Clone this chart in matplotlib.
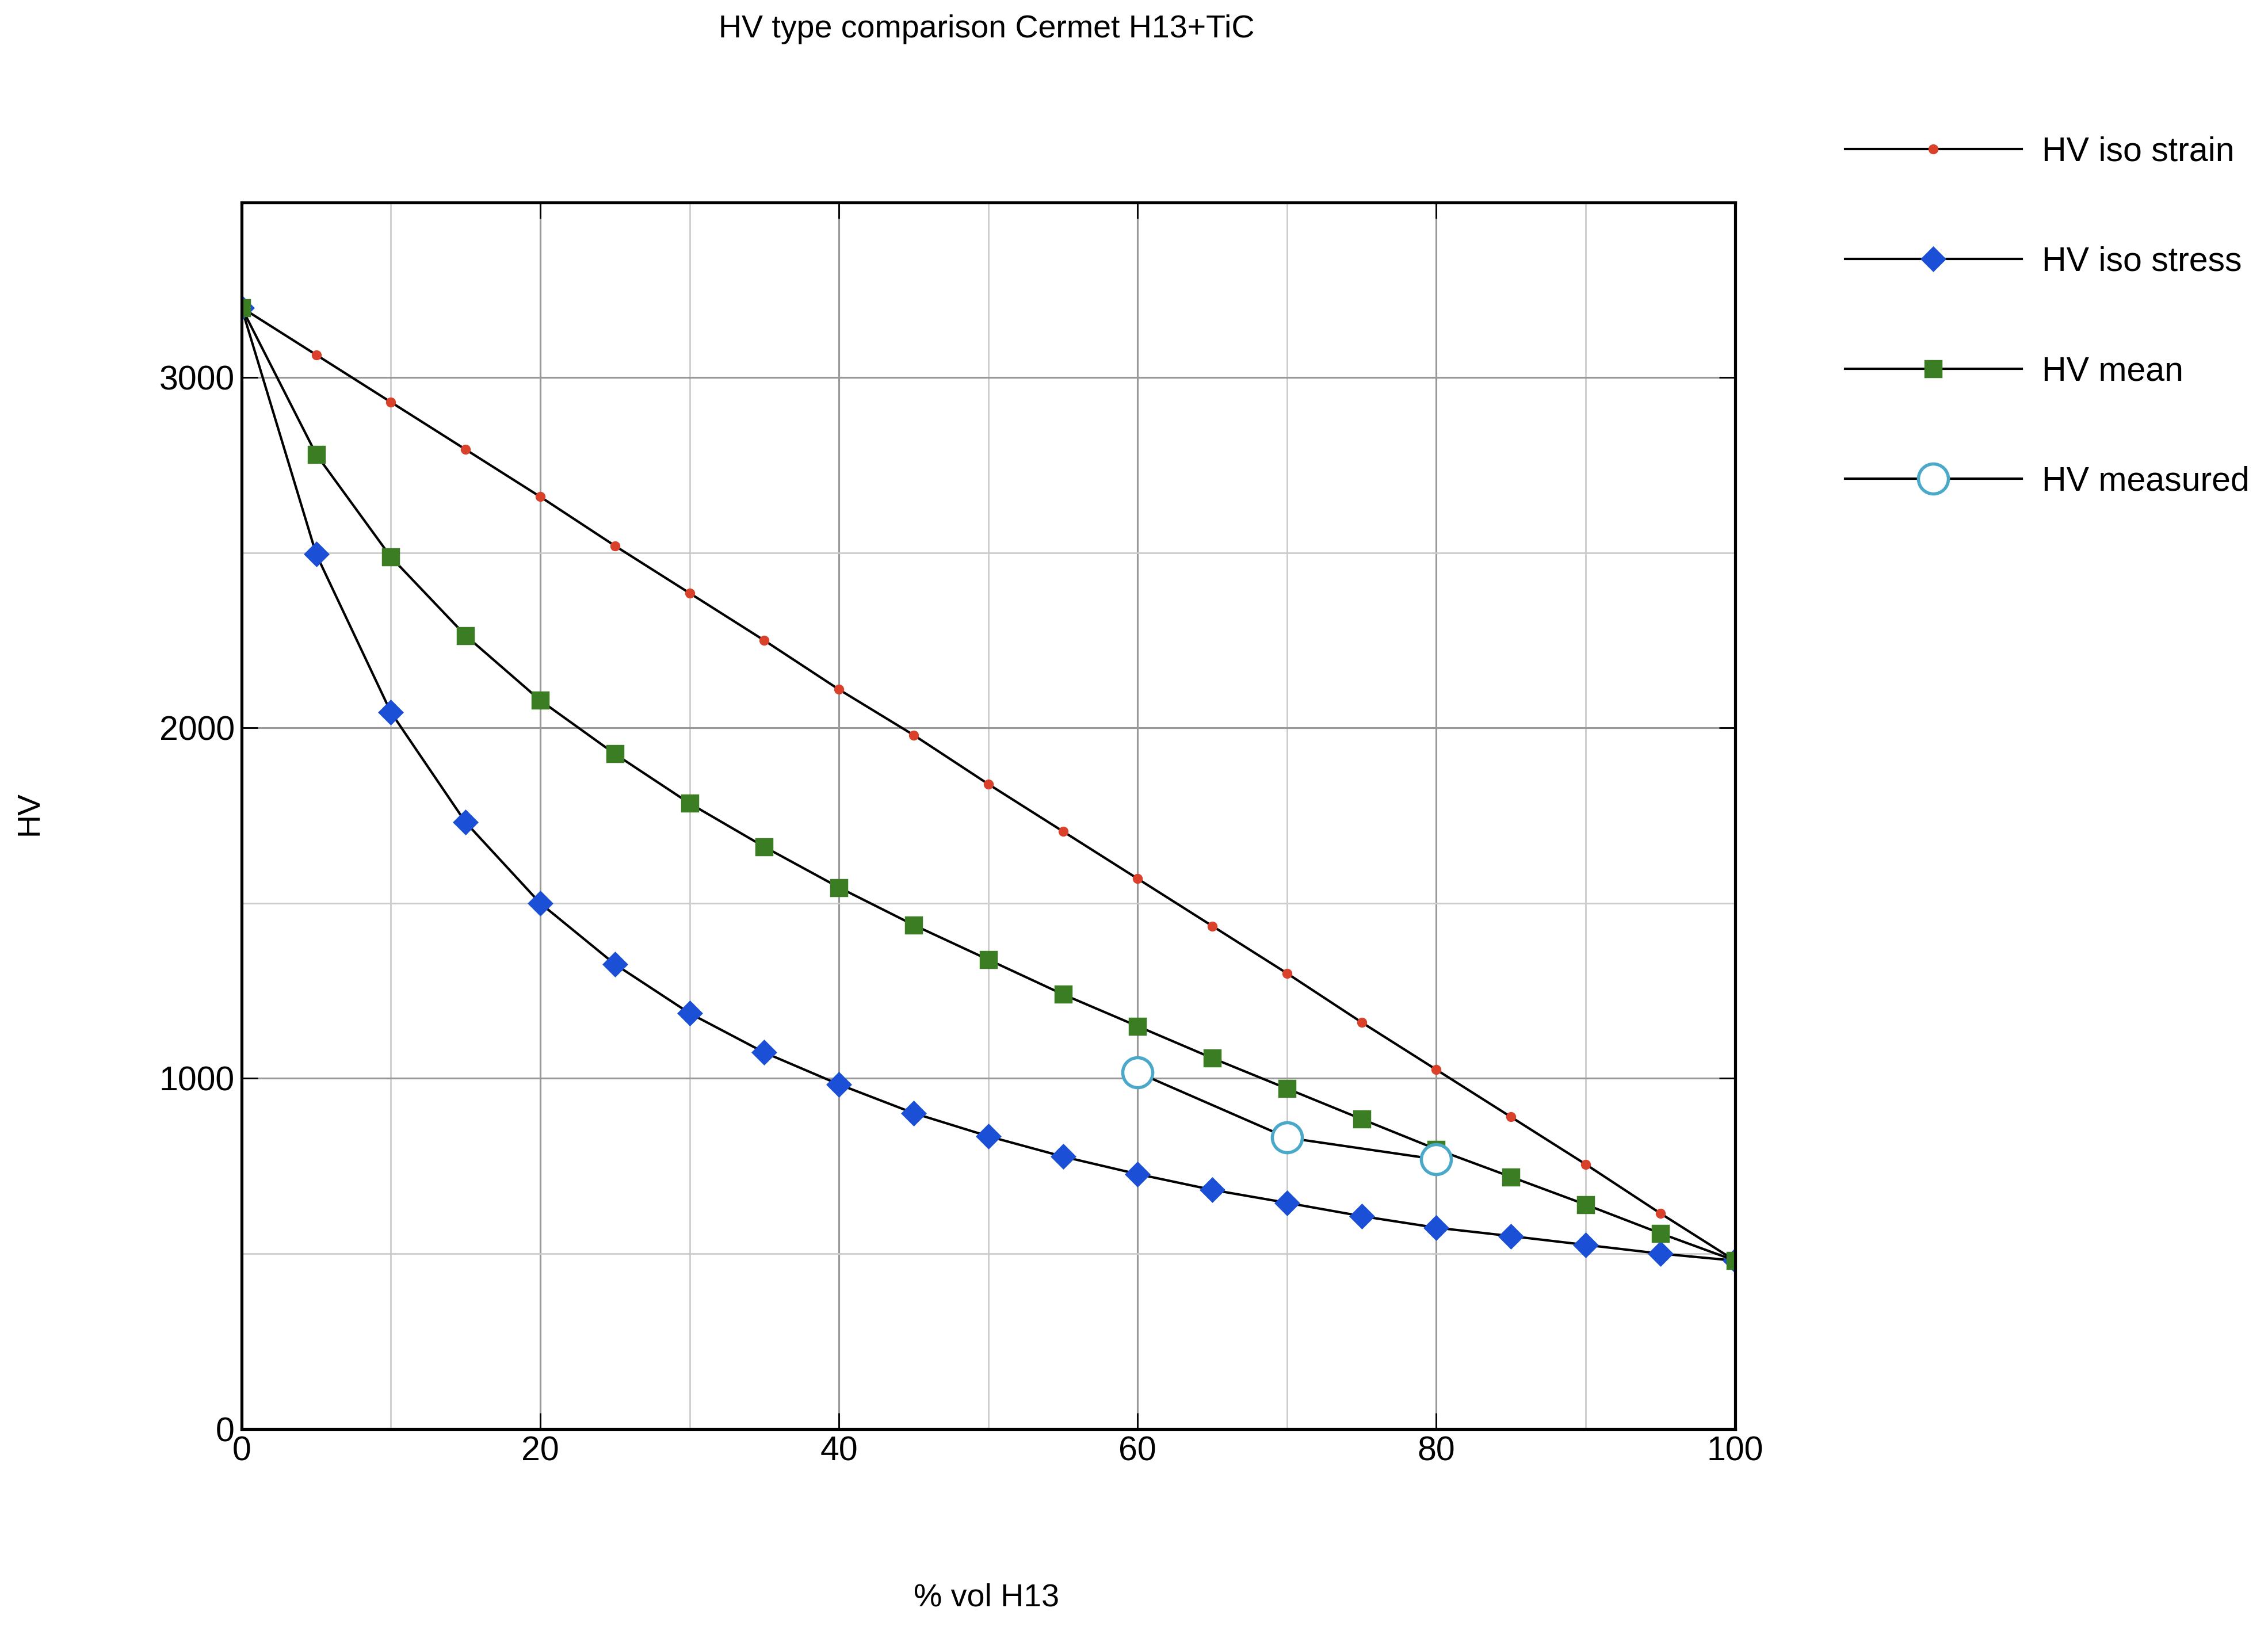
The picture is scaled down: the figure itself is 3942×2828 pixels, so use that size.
"""HV type comparison chart for the H13+TiC cermet."""
import matplotlib
matplotlib.use("Agg")
import matplotlib.pyplot as plt
from matplotlib.ticker import MultipleLocator

vol_h13 = [0, 5, 10, 15, 20, 25, 30, 35, 40, 45, 50, 55, 60, 65, 70, 75, 80, 85, 90, 95, 100]
hv_iso_strain = [3200, 3065, 2930, 2795, 2660, 2520, 2385, 2250, 2110, 1980, 1840,
                 1705, 1570, 1435, 1300, 1160, 1025, 890, 755, 615, 480]
hv_iso_stress = [3200, 2496, 2045, 1731, 1500, 1326, 1186, 1074, 983, 901, 835,
                 777, 727, 682, 645, 607, 574, 550, 525, 500, 480]
hv_mean = [3200, 2781, 2488, 2264, 2079, 1926, 1785, 1661, 1545, 1438, 1339,
           1240, 1149, 1058, 971, 884, 798, 719, 640, 558, 480]
vol_measured = [60, 70, 80]
hv_measured = [1017, 831, 769]

plt.rcParams["font.family"] = ["Liberation Sans", "DejaVu Sans"]

fig = plt.figure(figsize=(15.768, 11.312), dpi=250)
ax = fig.add_axes([0.1065, 0.1218, 0.6585, 0.7538])

ax.plot(vol_h13, hv_iso_strain, color="black", lw=1.2, marker="o", ms=4,
        mfc="#d9412b", mec="#d9412b", label="HV iso strain")
ax.plot(vol_h13, hv_iso_stress, color="black", lw=1.2, marker="D", ms=8,
        mfc="#1a4fd6", mec="#1a4fd6", label="HV iso stress")
ax.plot(vol_h13, hv_mean, color="black", lw=1.2, marker="s", ms=8,
        mfc="#3a7d22", mec="#3a7d22", label="HV mean")
ax.plot(vol_measured, hv_measured, color="black", lw=1.2, marker="o", ms=15,
        mfc="white", mec="#4aa8c8", mew=1.6, label="HV measured")

ax.set_xlim(0, 100)
ax.set_ylim(0, 3500)
ax.xaxis.set_major_locator(MultipleLocator(20))
ax.xaxis.set_minor_locator(MultipleLocator(10))
ax.yaxis.set_major_locator(MultipleLocator(1000))
ax.yaxis.set_minor_locator(MultipleLocator(500))
ax.grid(which="major", color="#999999", lw=0.9)
ax.grid(which="minor", color="#cccccc", lw=0.8)
ax.set_axisbelow(True)
ax.tick_params(which="both", direction="in", top=True, right=True, labelsize=17)
ax.tick_params(which="major", length=8)
ax.tick_params(which="minor", length=0)
for spine in ax.spines.values():
    spine.set_linewidth(1.5)

fig.text(0.435, 0.982, "HV type comparison Cermet H13+TiC", ha="center", va="center", fontsize=16)
fig.text(0.435, 0.018, "% vol H13", ha="center", va="center", fontsize=16)
fig.text(0.013, 0.5, "HV", rotation=90, ha="center", va="center", fontsize=16)

fig.legend(loc="upper left", bbox_to_anchor=(0.8, 0.935), frameon=False, fontsize=17,
           handlelength=5.2, labelspacing=2.3, handletextpad=0.6)

fig.savefig("out.png", dpi=250)
